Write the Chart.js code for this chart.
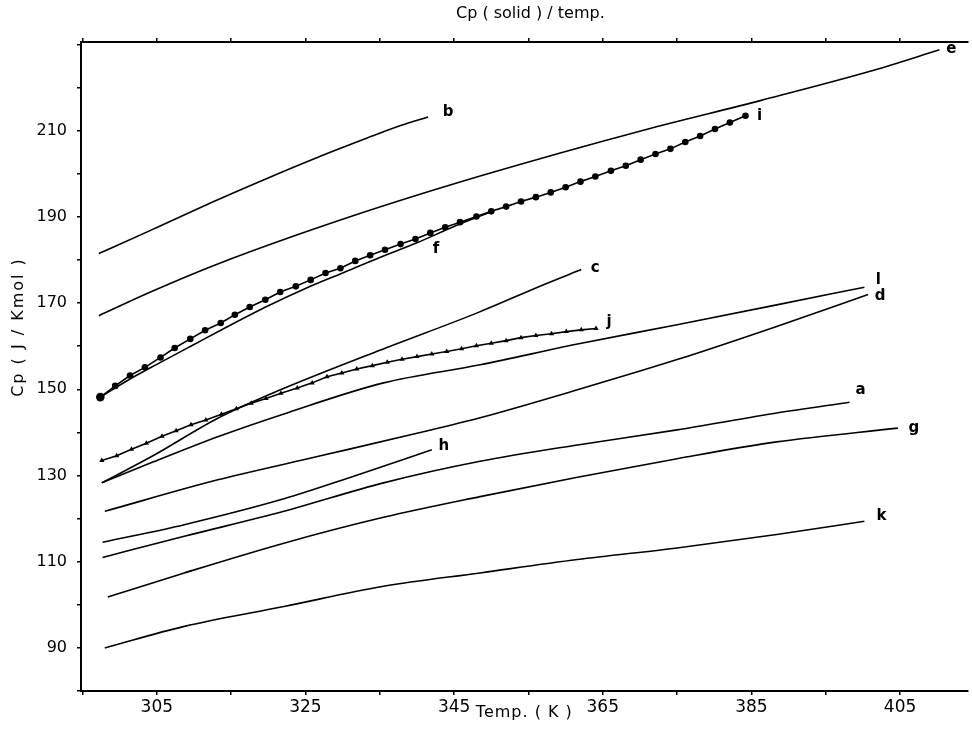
<!DOCTYPE html>
<html>
<head>
<meta charset="utf-8">
<script src="https://cdn.jsdelivr.net/npm/chart.js@4.4.1/dist/chart.umd.min.js"></script>
<style>
html,body{margin:0;padding:0;background:#fff;}
#wrap{width:972px;height:730px;position:relative;}
</style>
</head>
<body>
<div id="wrap"><canvas id="c"></canvas></div>
<script>
// ---- Text ----
const chartTitle = 'Cp ( solid ) / temp.';
const xTitle = 'Temp. ( K )';
const yTitle = 'Cp ( J / Kmol )';

// ---- Ticks ----
const xTickValues = [295, 305, 315, 325, 335, 345, 355, 365, 375, 385, 395, 405];
const xTickLabels = [305, 325, 345, 365, 385, 405];
const yTickValues = [80, 90, 100, 110, 120, 130, 140, 150, 160, 170, 180, 190, 200, 210, 220, 230];
const yTickLabels = [90, 110, 130, 150, 170, 190, 210];

// ---- Series (temperature K, Cp J/K mol) ----
const curveNames = ['a','b','c','d','e','f','g','h','i','j','k','l'];

const T_a  = [297.7, 308.7, 322.1, 335.5, 348.5, 361.6, 375.0, 388.4, 398.2];
const Cp_a = [111.0, 115.9, 121.7, 128.3, 133.3, 137.1, 140.6, 144.5, 147.0];

const T_b  = [297.2, 304.3, 313.2, 319.9, 326.6, 333.3, 337.8, 341.5];
const Cp_b = [181.5, 187.0, 194.0, 199.0, 203.8, 208.3, 211.2, 213.2];

const T_c  = [297.6, 304.3, 313.2, 320.4, 334.9, 348.2, 357.2, 362.1];
const Cp_c = [128.3, 134.4, 143.3, 149.0, 159.0, 167.8, 174.4, 177.8];

const T_d  = [298.0, 313.2, 326.6, 340.0, 348.5, 361.6, 375.0, 388.4, 400.7];
const Cp_d = [121.7, 129.0, 134.4, 139.8, 143.4, 149.9, 156.9, 164.6, 172.0];

const T_e  = [297.2, 304.3, 313.2, 331.1, 348.5, 370.6, 386.2, 401.8, 410.3];
const Cp_e = [167.1, 172.7, 179.1, 190.1, 199.5, 210.2, 217.0, 224.2, 228.8];

const T_f  = [297.4, 301.0, 305.0, 310.0, 315.0, 320.0, 325.0, 330.0, 335.0, 340.0, 345.0, 350.0];
const Cp_f = [148.2, 152.0, 155.8, 160.4, 165.0, 169.4, 173.4, 177.0, 180.6, 184.0, 187.8, 191.2];

const T_g  = [298.4, 308.7, 322.1, 335.5, 348.5, 361.6, 375.0, 388.4, 404.7];
const Cp_g = [101.8, 107.4, 114.3, 120.3, 125.1, 129.6, 133.9, 137.8, 141.0];

const T_h  = [297.7, 308.7, 322.1, 331.1, 342.0];
const Cp_h = [114.5, 118.6, 124.6, 129.6, 136.0];

const T_i  = [297.4, 299.4, 301.4, 303.4, 305.5, 307.4, 309.5, 311.5, 313.6, 315.5, 317.5, 319.6, 321.6, 323.7, 325.7,
              327.7, 329.7, 331.7, 333.7, 335.7, 337.8, 339.8, 341.8, 343.8, 345.8, 348.0, 350.0, 352.0, 354.0, 356.0,
              358.0, 360.0, 362.0, 364.0, 366.1, 368.1, 370.1, 372.1, 374.1, 376.1, 378.1, 380.1, 382.1, 384.2];
const Cp_i = [148.2, 150.8, 153.2, 155.1, 157.4, 159.6, 161.7, 163.7, 165.4, 167.3, 169.1, 170.8, 172.6, 173.9, 175.4,
              177.0, 178.1, 179.8, 181.1, 182.4, 183.7, 184.9, 186.3, 187.6, 188.8, 190.1, 191.3, 192.4, 193.6, 194.6,
              195.7, 196.9, 198.2, 199.4, 200.7, 201.9, 203.3, 204.6, 205.8, 207.4, 208.8, 210.4, 211.9, 213.5];

const T_j  = [297.6, 299.6, 301.6, 303.6, 305.7, 307.6, 309.6, 311.6, 313.7, 315.7, 317.7, 319.7, 321.7, 323.9, 325.9,
              327.9, 329.9, 331.9, 334.0, 336.0, 338.0, 340.0, 342.0, 344.0, 346.0, 348.0, 350.0, 352.0, 354.0, 356.0,
              358.1, 360.1, 362.1, 364.1];
const Cp_j = [133.5, 134.6, 136.1, 137.5, 139.1, 140.4, 141.8, 142.9, 144.2, 145.5, 146.8, 147.9, 149.1, 150.3, 151.5,
              152.9, 153.8, 154.7, 155.5, 156.3, 157.0, 157.6, 158.2, 158.8, 159.4, 160.1, 160.7, 161.3, 162.0, 162.5,
              162.9, 163.4, 163.8, 164.1];

const T_k  = [298.0, 308.7, 322.1, 335.5, 348.5, 361.6, 375.0, 388.4, 400.2];
const Cp_k = [90.0, 95.0, 99.6, 104.3, 107.4, 110.5, 113.2, 116.3, 119.4];

const T_l  = [297.6, 304.3, 313.2, 322.1, 335.5, 348.5, 361.6, 375.0, 388.4, 400.2];
const Cp_l = [128.3, 133.0, 139.0, 144.3, 151.5, 155.7, 160.5, 165.0, 169.6, 173.7];

// ---- label placement (styling, pixels relative to an anchor point) ----
const labelStyle = {
  a: {dx: 11, dy: -12}, b: {dx: 20, dy: -5}, c: {dx: 14, dy: -1}, d: {dx: 12, dy: 2},
  e: {dx: 12, dy: -1}, f: {dx: 19, dy: 6, anchor: 9}, g: {dx: 16, dy: 0}, h: {dx: 12, dy: -4},
  i: {dx: 14, dy: 0}, j: {dx: 13, dy: -6}, k: {dx: 17, dy: -5}, l: {dx: 14, dy: -7}
};

const seriesT  = {a:T_a,b:T_b,c:T_c,d:T_d,e:T_e,f:T_f,g:T_g,h:T_h,i:T_i,j:T_j,k:T_k,l:T_l};
const seriesCp = {a:Cp_a,b:Cp_b,c:Cp_c,d:Cp_d,e:Cp_e,f:Cp_f,g:Cp_g,h:Cp_h,i:Cp_i,j:Cp_j,k:Cp_k,l:Cp_l};

const FONT = '"DejaVu Sans", "Liberation Sans", sans-serif';

const datasets = curveNames.map(name => {
  const ds = {
    label: name,
    data: seriesT[name].map((t, k) => ({x: t, y: seriesCp[name][k]})),
    borderColor: '#000',
    backgroundColor: '#000',
    borderWidth: 1.6,
    pointRadius: 0,
    pointHoverRadius: 0,
    fill: false,
    clip: false,
    cubicInterpolationMode: 'monotone'
  };
  if (name === 'i') {
    ds.pointStyle = 'circle';
    ds.pointRadius = ctx => ctx.dataIndex === 0 ? 4.3 : 3.3;
    ds.pointBorderWidth = 0;
    ds.cubicInterpolationMode = 'default';
    ds.tension = 0;
  }
  if (name === 'j') {
    ds.pointStyle = 'triangle';
    ds.pointRadius = 3;
    ds.pointBorderWidth = 0;
    ds.cubicInterpolationMode = 'default';
    ds.tension = 0;
  }
  return ds;
});

const textPlugin = {
  id: 'texts',
  afterDraw(chart) {
    const {ctx, chartArea: ca} = chart;
    ctx.save();
    ctx.fillStyle = '#000';
    ctx.textAlign = 'center';
    ctx.textBaseline = 'middle';
    ctx.font = '16px ' + FONT;
    const cx = (ca.left + ca.right) / 2;
    ctx.fillText(chartTitle, cx + 6, 14);
    ctx.letterSpacing = '1px';
    ctx.fillText(xTitle, cx, 713);
    ctx.save();
    ctx.letterSpacing = '2px';
    ctx.translate(19, 327);
    ctx.rotate(-Math.PI / 2);
    ctx.fillText(yTitle, 0, 0);
    ctx.restore();
    ctx.letterSpacing = '0px';
    ctx.font = 'bold 15px ' + FONT;
    curveNames.forEach((name, di) => {
      const meta = chart.getDatasetMeta(di);
      const st = labelStyle[name];
      const idx = st.anchor !== undefined ? st.anchor : meta.data.length - 1;
      const p = meta.data[idx];
      ctx.fillText(name, p.x + st.dx, p.y + st.dy);
    });
    ctx.restore();
  }
};

const gridCfg = {drawOnChartArea: false, drawTicks: true, tickLength: 4, color: '#000', lineWidth: 1.5};
const borderCfg = {display: true, color: '#000', width: 2};

new Chart(document.getElementById('c'), {
  type: 'line',
  data: {datasets},
  options: {
    responsive: true,
    maintainAspectRatio: false,
    animation: false,
    layout: {padding: 0},
    plugins: {legend: {display: false}, tooltip: {enabled: false}, title: {display: false}},
    scales: {
      x: {
        type: 'linear', position: 'bottom', min: 294.8, max: 414.1,
        afterBuildTicks: s => { s.ticks = xTickValues.map(v => ({value: v})); },
        afterFit: s => { s.height = 39; },
        ticks: {
          autoSkip: false, maxRotation: 0, padding: 2, color: '#000',
          font: {family: FONT, size: 17},
          callback: v => xTickLabels.includes(v) ? String(v) : ''
        },
        grid: gridCfg, border: borderCfg
      },
      x2: {
        type: 'linear', axis: 'x', position: 'top', min: 294.8, max: 414.1,
        afterBuildTicks: s => { s.ticks = xTickValues.map(v => ({value: v})); },
        afterFit: s => { s.height = 42; },
        ticks: {display: false},
        grid: gridCfg, border: borderCfg
      },
      y: {
        type: 'linear', min: 80, max: 230.6,
        afterBuildTicks: s => { s.ticks = yTickValues.map(v => ({value: v})); },
        afterFit: s => { s.width = 81; },
        ticks: {
          autoSkip: false, padding: 10, color: '#000',
          font: {family: FONT, size: 16},
          callback: v => yTickLabels.includes(v) ? String(v) : ''
        },
        grid: gridCfg, border: borderCfg
      }
    }
  },
  plugins: [textPlugin]
});
</script>
</body>
</html>
